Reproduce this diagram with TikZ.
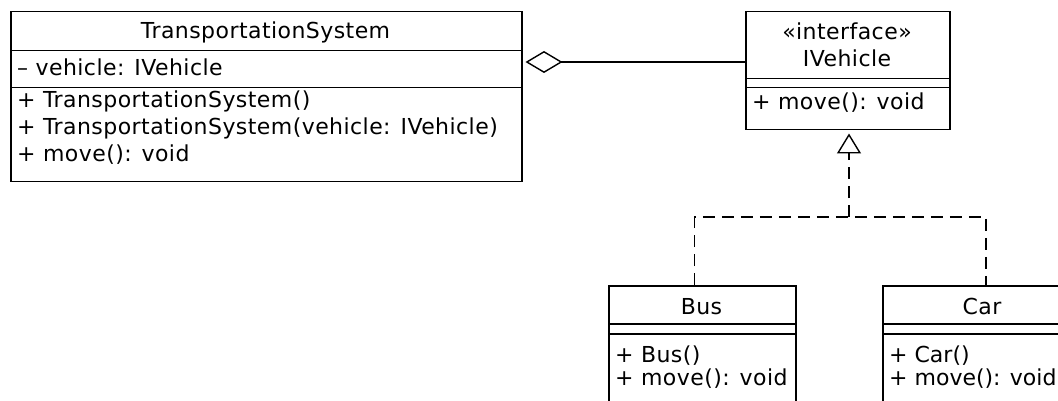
\documentclass[tikz,border=0pt]{standalone}
\usepackage{fontspec}
\setmainfont[LetterSpace=2]{DejaVu Sans}
\newfontfamily\tightfont{DejaVu Sans}
\usetikzlibrary{arrows.meta}
\begin{document}
\begin{tikzpicture}[x=1pt,y=-1pt,
  box/.style={draw, line width=1.5pt, anchor=north west, inner sep=0pt},
  txt/.style={font=\fontsize{22}{26}\selectfont, inner sep=0pt, anchor=base west},
  ctxt/.style={font=\fontsize{22}{26}\selectfont, inner sep=0pt, anchor=base},
  tighttxt/.style={font=\fontsize{22}{26}\tightfont, inner sep=0pt, anchor=base west},
  conn/.style={line width=1.4pt},
  realize/.style={conn, dash pattern=on 12pt off 7pt, -{Triangle[open, length=20pt, width=24pt]}},
  aggr/.style={conn, -{Diamond[open, length=37pt, width=22pt]}},
]
\useasboundingbox (0,0) rectangle (1058,401);
\clip (0,0) rectangle (1058,401);

% TransportationSystem
\node[box, minimum width=511pt, minimum height=39pt] (tsname) at (10,11) {};
\node[box, minimum width=511pt, minimum height=37pt] (tsattr) at (10,50) {};
\node[box, minimum width=511pt, minimum height=94pt] (tsops) at (10,87) {};
\node[ctxt] (tstitle) at (265.5,39) {TransportationSystem};
\node[txt] (tsa1) at (17,76) {– vehicle: IVehicle};
\node[txt] (tso1) at (17,108) {+ TransportationSystem()};
\node[txt] (tso2) at (17,135) {+ TransportationSystem(vehicle: IVehicle)};
\node[txt] (tso3) at (17,162) {+ move(): void};

% IVehicle
\node[box, minimum width=204pt, minimum height=67pt] (ivname) at (745,11) {};
\node[box, minimum width=204pt, minimum height=9pt] (ivattr) at (745,78) {};
\node[box, minimum width=204pt, minimum height=42pt] (ivops) at (745,87) {};
\node[ctxt] (ivster) at (847,40) {«interface»};
\node[ctxt] (ivtitle) at (847,67) {IVehicle};
\node[txt] (ivo1) at (752,110) {+ move(): void};

% Bus
\node[box, minimum width=187pt, minimum height=38pt] (busname) at (608,285) {};
\node[box, minimum width=187pt, minimum height=10pt] (busattr) at (608,323) {};
\node[box, minimum width=187pt, minimum height=90pt] (busops) at (608,333) {};
\node[ctxt] (bustitle) at (701.5,314) {Bus};
\node[txt] (buso1) at (615,362) {+ Bus()};
\node[txt] (buso2) at (615,385) {+ move(): void};

% Car
\node[box, minimum width=200pt, minimum height=38pt] (carname) at (882,285) {};
\node[box, minimum width=200pt, minimum height=10pt] (carattr) at (882,323) {};
\node[box, minimum width=200pt, minimum height=90pt] (carops) at (882,333) {};
\node[ctxt] (cartitle) at (982,314) {Car};
\node[tighttxt] (caro1) at (889,362) {+ Car()};
\node[tighttxt] (caro2) at (889,385) {+ move(): void};

% aggregation
\coordinate (aggy) at (0,62);
\draw[aggr, shorten >=3pt] (ivname.west |- aggy) -- (tsname.east |- aggy);

% realization
\coordinate (junc) at (849,217);
\coordinate (busin) at ([xshift=-7.5pt]busname.north);
\coordinate (carin) at ([xshift=104pt]carname.north west);
\draw[conn, dash pattern=on 12pt off 7pt] (busin) |- (junc) -| (carin);
\draw[realize, shorten >=3pt] (junc) -- (junc |- ivops.south);
\end{tikzpicture}
\end{document}
